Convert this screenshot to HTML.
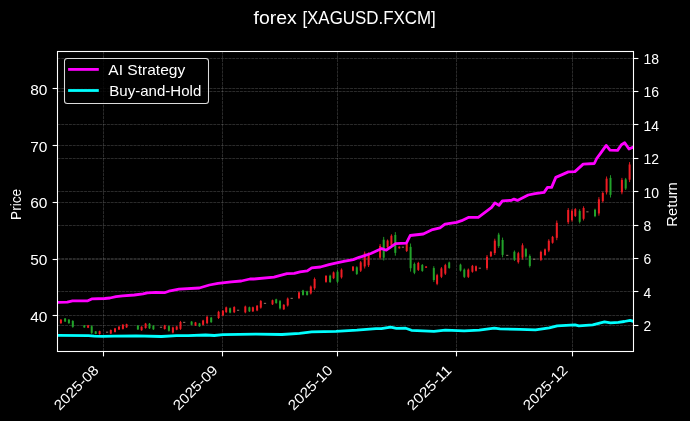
<!DOCTYPE html><html><head><meta charset="utf-8"><style>
html,body{margin:0;padding:0;background:#000;}
body{width:690px;height:421px;overflow:hidden;}
svg{display:block;will-change:transform;}
text{font-family:"Liberation Sans", sans-serif;fill:#fff;}
</style></head><body>
<svg width="690" height="421" viewBox="0 0 690 421">
<rect x="0" y="0" width="690" height="421" fill="#000"/>
<line x1="103.5" y1="51.5" x2="103.5" y2="351.5" stroke="#fff" stroke-opacity="0.24" stroke-width="0.7" stroke-dasharray="3.0 0.8"/>
<line x1="222.5" y1="51.5" x2="222.5" y2="351.5" stroke="#fff" stroke-opacity="0.24" stroke-width="0.7" stroke-dasharray="3.0 0.8"/>
<line x1="337.5" y1="51.5" x2="337.5" y2="351.5" stroke="#fff" stroke-opacity="0.24" stroke-width="0.7" stroke-dasharray="3.0 0.8"/>
<line x1="456.5" y1="51.5" x2="456.5" y2="351.5" stroke="#fff" stroke-opacity="0.24" stroke-width="0.7" stroke-dasharray="3.0 0.8"/>
<line x1="572.5" y1="51.5" x2="572.5" y2="351.5" stroke="#fff" stroke-opacity="0.24" stroke-width="0.7" stroke-dasharray="3.0 0.8"/>
<line x1="57.5" y1="315.50" x2="633.5" y2="315.50" stroke="#fff" stroke-opacity="0.24" stroke-width="0.7" stroke-dasharray="3.0 0.8"/>
<line x1="57.5" y1="259.50" x2="633.5" y2="259.50" stroke="#fff" stroke-opacity="0.24" stroke-width="0.7" stroke-dasharray="3.0 0.8"/>
<line x1="57.5" y1="202.50" x2="633.5" y2="202.50" stroke="#fff" stroke-opacity="0.24" stroke-width="0.7" stroke-dasharray="3.0 0.8"/>
<line x1="57.5" y1="145.50" x2="633.5" y2="145.50" stroke="#fff" stroke-opacity="0.24" stroke-width="0.7" stroke-dasharray="3.0 0.8"/>
<line x1="57.5" y1="88.50" x2="633.5" y2="88.50" stroke="#fff" stroke-opacity="0.24" stroke-width="0.7" stroke-dasharray="3.0 0.8"/>
<line x1="57.5" y1="58.50" x2="633.5" y2="58.50" stroke="#fff" stroke-opacity="0.24" stroke-width="0.7" stroke-dasharray="3.0 0.8"/>
<line x1="57.5" y1="91.50" x2="633.5" y2="91.50" stroke="#fff" stroke-opacity="0.24" stroke-width="0.7" stroke-dasharray="3.0 0.8"/>
<line x1="57.5" y1="124.50" x2="633.5" y2="124.50" stroke="#fff" stroke-opacity="0.24" stroke-width="0.7" stroke-dasharray="3.0 0.8"/>
<line x1="57.5" y1="158.50" x2="633.5" y2="158.50" stroke="#fff" stroke-opacity="0.24" stroke-width="0.7" stroke-dasharray="3.0 0.8"/>
<line x1="57.5" y1="191.50" x2="633.5" y2="191.50" stroke="#fff" stroke-opacity="0.24" stroke-width="0.7" stroke-dasharray="3.0 0.8"/>
<line x1="57.5" y1="225.50" x2="633.5" y2="225.50" stroke="#fff" stroke-opacity="0.24" stroke-width="0.7" stroke-dasharray="3.0 0.8"/>
<line x1="57.5" y1="258.50" x2="633.5" y2="258.50" stroke="#fff" stroke-opacity="0.24" stroke-width="0.7" stroke-dasharray="3.0 0.8"/>
<line x1="57.5" y1="291.50" x2="633.5" y2="291.50" stroke="#fff" stroke-opacity="0.24" stroke-width="0.7" stroke-dasharray="3.0 0.8"/>
<line x1="57.5" y1="325.50" x2="633.5" y2="325.50" stroke="#fff" stroke-opacity="0.24" stroke-width="0.7" stroke-dasharray="3.0 0.8"/>
<g>
<rect x="60.45" y="319.10" width="0.9" height="4.70" fill="#ee1c24"/>
<rect x="59.90" y="319.66" width="2.0" height="3.57" fill="#ee1c24"/>
<rect x="64.65" y="318.00" width="0.9" height="4.00" fill="#22a22a"/>
<rect x="64.10" y="318.48" width="2.0" height="3.04" fill="#22a22a"/>
<rect x="68.45" y="319.10" width="0.9" height="4.70" fill="#22a22a"/>
<rect x="67.90" y="319.66" width="2.0" height="3.57" fill="#22a22a"/>
<rect x="72.35" y="320.10" width="0.9" height="7.70" fill="#22a22a"/>
<rect x="71.80" y="321.02" width="2.0" height="5.85" fill="#22a22a"/>
<rect x="83.85" y="325.00" width="0.9" height="2.80" fill="#22a22a"/>
<rect x="83.30" y="325.34" width="2.0" height="2.13" fill="#22a22a"/>
<rect x="87.65" y="324.90" width="0.9" height="3.20" fill="#ee1c24"/>
<rect x="87.10" y="325.28" width="2.0" height="2.43" fill="#ee1c24"/>
<rect x="91.25" y="325.20" width="0.9" height="8.70" fill="#22a22a"/>
<rect x="90.70" y="326.24" width="2.0" height="6.61" fill="#22a22a"/>
<rect x="95.25" y="331.00" width="0.9" height="3.30" fill="#22a22a"/>
<rect x="94.70" y="331.40" width="2.0" height="2.51" fill="#22a22a"/>
<rect x="99.15" y="330.70" width="0.9" height="3.90" fill="#ee1c24"/>
<rect x="98.60" y="331.17" width="2.0" height="2.96" fill="#ee1c24"/>
<rect x="106.00" y="331.60" width="2.2" height="1.2" fill="#7a6458"/>
<rect x="110.35" y="329.50" width="0.9" height="4.60" fill="#ee1c24"/>
<rect x="109.80" y="330.05" width="2.0" height="3.50" fill="#ee1c24"/>
<rect x="114.55" y="327.90" width="0.9" height="4.60" fill="#ee1c24"/>
<rect x="114.00" y="328.45" width="2.0" height="3.50" fill="#ee1c24"/>
<rect x="118.55" y="326.20" width="0.9" height="3.80" fill="#ee1c24"/>
<rect x="118.00" y="326.66" width="2.0" height="2.89" fill="#ee1c24"/>
<rect x="122.45" y="324.10" width="0.9" height="5.40" fill="#ee1c24"/>
<rect x="121.90" y="324.75" width="2.0" height="4.10" fill="#ee1c24"/>
<rect x="126.15" y="323.70" width="0.9" height="4.20" fill="#ee1c24"/>
<rect x="125.60" y="324.20" width="2.0" height="3.19" fill="#ee1c24"/>
<rect x="137.45" y="325.00" width="0.9" height="5.00" fill="#22a22a"/>
<rect x="136.90" y="325.60" width="2.0" height="3.80" fill="#22a22a"/>
<rect x="141.15" y="326.20" width="0.9" height="4.60" fill="#ee1c24"/>
<rect x="140.60" y="326.75" width="2.0" height="3.50" fill="#ee1c24"/>
<rect x="145.15" y="322.90" width="0.9" height="5.80" fill="#ee1c24"/>
<rect x="144.60" y="323.60" width="2.0" height="4.41" fill="#ee1c24"/>
<rect x="149.05" y="323.00" width="0.9" height="6.00" fill="#22a22a"/>
<rect x="148.50" y="323.72" width="2.0" height="4.56" fill="#22a22a"/>
<rect x="152.95" y="325.10" width="0.9" height="4.80" fill="#22a22a"/>
<rect x="152.40" y="325.68" width="2.0" height="3.65" fill="#22a22a"/>
<rect x="159.90" y="326.70" width="2.2" height="1.2" fill="#7a6458"/>
<rect x="164.25" y="324.80" width="0.9" height="4.80" fill="#ee1c24"/>
<rect x="163.70" y="325.38" width="2.0" height="3.65" fill="#ee1c24"/>
<rect x="168.45" y="325.40" width="0.9" height="6.20" fill="#22a22a"/>
<rect x="167.90" y="326.14" width="2.0" height="4.71" fill="#22a22a"/>
<rect x="172.45" y="326.60" width="0.9" height="6.80" fill="#ee1c24"/>
<rect x="171.90" y="327.42" width="2.0" height="5.17" fill="#ee1c24"/>
<rect x="176.25" y="326.00" width="0.9" height="4.20" fill="#ee1c24"/>
<rect x="175.70" y="326.50" width="2.0" height="3.19" fill="#ee1c24"/>
<rect x="180.05" y="320.90" width="0.9" height="9.00" fill="#ee1c24"/>
<rect x="179.50" y="321.98" width="2.0" height="6.84" fill="#ee1c24"/>
<rect x="183.10" y="321.80" width="2.2" height="1.2" fill="#7a6458"/>
<rect x="191.15" y="321.10" width="0.9" height="4.20" fill="#22a22a"/>
<rect x="190.60" y="321.60" width="2.0" height="3.19" fill="#22a22a"/>
<rect x="195.05" y="321.90" width="0.9" height="4.10" fill="#ee1c24"/>
<rect x="194.50" y="322.39" width="2.0" height="3.12" fill="#ee1c24"/>
<rect x="199.05" y="322.90" width="0.9" height="3.90" fill="#22a22a"/>
<rect x="198.50" y="323.37" width="2.0" height="2.96" fill="#22a22a"/>
<rect x="202.65" y="319.80" width="0.9" height="5.70" fill="#ee1c24"/>
<rect x="202.10" y="320.48" width="2.0" height="4.33" fill="#ee1c24"/>
<rect x="206.65" y="315.80" width="0.9" height="8.40" fill="#ee1c24"/>
<rect x="206.10" y="316.81" width="2.0" height="6.38" fill="#ee1c24"/>
<rect x="210.75" y="316.90" width="0.9" height="6.00" fill="#22a22a"/>
<rect x="210.20" y="317.62" width="2.0" height="4.56" fill="#22a22a"/>
<rect x="218.15" y="310.80" width="0.9" height="8.20" fill="#ee1c24"/>
<rect x="217.60" y="311.78" width="2.0" height="6.23" fill="#ee1c24"/>
<rect x="222.45" y="310.00" width="0.9" height="6.20" fill="#ee1c24"/>
<rect x="221.90" y="310.74" width="2.0" height="4.71" fill="#ee1c24"/>
<rect x="225.75" y="306.60" width="0.9" height="6.30" fill="#ee1c24"/>
<rect x="225.20" y="307.36" width="2.0" height="4.79" fill="#ee1c24"/>
<rect x="229.65" y="307.50" width="0.9" height="5.80" fill="#22a22a"/>
<rect x="229.10" y="308.20" width="2.0" height="4.41" fill="#22a22a"/>
<rect x="233.75" y="306.20" width="0.9" height="6.90" fill="#ee1c24"/>
<rect x="233.20" y="307.03" width="2.0" height="5.24" fill="#ee1c24"/>
<rect x="237.00" y="309.70" width="2.2" height="1.2" fill="#7a6458"/>
<rect x="244.85" y="305.60" width="0.9" height="7.70" fill="#ee1c24"/>
<rect x="244.30" y="306.52" width="2.0" height="5.85" fill="#ee1c24"/>
<rect x="248.95" y="306.60" width="0.9" height="5.40" fill="#22a22a"/>
<rect x="248.40" y="307.25" width="2.0" height="4.10" fill="#22a22a"/>
<rect x="252.45" y="306.60" width="0.9" height="5.40" fill="#ee1c24"/>
<rect x="251.90" y="307.25" width="2.0" height="4.10" fill="#ee1c24"/>
<rect x="256.65" y="305.00" width="0.9" height="6.20" fill="#ee1c24"/>
<rect x="256.10" y="305.74" width="2.0" height="4.71" fill="#ee1c24"/>
<rect x="260.35" y="300.00" width="0.9" height="8.70" fill="#ee1c24"/>
<rect x="259.80" y="301.04" width="2.0" height="6.61" fill="#ee1c24"/>
<rect x="263.90" y="302.80" width="2.2" height="1.2" fill="#7a6458"/>
<rect x="272.05" y="299.60" width="0.9" height="5.40" fill="#ee1c24"/>
<rect x="271.50" y="300.25" width="2.0" height="4.10" fill="#ee1c24"/>
<rect x="275.75" y="298.70" width="0.9" height="5.00" fill="#22a22a"/>
<rect x="275.20" y="299.30" width="2.0" height="3.80" fill="#22a22a"/>
<rect x="279.55" y="300.00" width="0.9" height="9.50" fill="#22a22a"/>
<rect x="279.00" y="301.14" width="2.0" height="7.22" fill="#22a22a"/>
<rect x="283.35" y="304.10" width="0.9" height="5.90" fill="#ee1c24"/>
<rect x="282.80" y="304.81" width="2.0" height="4.48" fill="#ee1c24"/>
<rect x="287.25" y="297.50" width="0.9" height="9.10" fill="#ee1c24"/>
<rect x="286.70" y="298.59" width="2.0" height="6.92" fill="#ee1c24"/>
<rect x="290.60" y="297.80" width="2.2" height="1.2" fill="#7a6458"/>
<rect x="298.55" y="291.50" width="0.9" height="7.60" fill="#ee1c24"/>
<rect x="298.00" y="292.41" width="2.0" height="5.78" fill="#ee1c24"/>
<rect x="302.55" y="289.80" width="0.9" height="5.80" fill="#22a22a"/>
<rect x="302.00" y="290.50" width="2.0" height="4.41" fill="#22a22a"/>
<rect x="306.65" y="290.80" width="0.9" height="4.80" fill="#22a22a"/>
<rect x="306.10" y="291.38" width="2.0" height="3.65" fill="#22a22a"/>
<rect x="310.35" y="285.50" width="0.9" height="9.00" fill="#ee1c24"/>
<rect x="309.80" y="286.58" width="2.0" height="6.84" fill="#ee1c24"/>
<rect x="314.15" y="277.50" width="0.9" height="12.30" fill="#ee1c24"/>
<rect x="313.60" y="278.98" width="2.0" height="9.35" fill="#ee1c24"/>
<rect x="325.55" y="275.00" width="0.9" height="7.80" fill="#ee1c24"/>
<rect x="325.00" y="275.94" width="2.0" height="5.93" fill="#ee1c24"/>
<rect x="329.65" y="274.70" width="0.9" height="8.30" fill="#22a22a"/>
<rect x="329.10" y="275.70" width="2.0" height="6.31" fill="#22a22a"/>
<rect x="333.15" y="271.50" width="0.9" height="7.60" fill="#ee1c24"/>
<rect x="332.60" y="272.41" width="2.0" height="5.78" fill="#ee1c24"/>
<rect x="337.05" y="270.10" width="0.9" height="13.20" fill="#22a22a"/>
<rect x="336.50" y="271.68" width="2.0" height="10.03" fill="#22a22a"/>
<rect x="341.05" y="268.40" width="0.9" height="10.20" fill="#ee1c24"/>
<rect x="340.50" y="269.62" width="2.0" height="7.75" fill="#ee1c24"/>
<rect x="352.55" y="266.00" width="0.9" height="5.30" fill="#ee1c24"/>
<rect x="352.00" y="266.64" width="2.0" height="4.03" fill="#ee1c24"/>
<rect x="356.35" y="266.20" width="0.9" height="8.80" fill="#22a22a"/>
<rect x="355.80" y="267.26" width="2.0" height="6.69" fill="#22a22a"/>
<rect x="360.25" y="261.00" width="0.9" height="11.00" fill="#ee1c24"/>
<rect x="359.70" y="262.32" width="2.0" height="8.36" fill="#ee1c24"/>
<rect x="364.25" y="251.50" width="0.9" height="17.00" fill="#ee1c24"/>
<rect x="363.70" y="253.54" width="2.0" height="12.92" fill="#ee1c24"/>
<rect x="368.15" y="252.40" width="0.9" height="14.60" fill="#ee1c24"/>
<rect x="367.60" y="254.15" width="2.0" height="11.10" fill="#ee1c24"/>
<rect x="379.65" y="244.00" width="0.9" height="15.50" fill="#ee1c24"/>
<rect x="379.10" y="245.86" width="2.0" height="11.78" fill="#ee1c24"/>
<rect x="383.25" y="236.90" width="0.9" height="23.60" fill="#22a22a"/>
<rect x="382.70" y="239.73" width="2.0" height="17.94" fill="#22a22a"/>
<rect x="387.15" y="239.50" width="0.9" height="8.80" fill="#ee1c24"/>
<rect x="386.60" y="240.56" width="2.0" height="6.69" fill="#ee1c24"/>
<rect x="390.95" y="234.30" width="0.9" height="12.10" fill="#ee1c24"/>
<rect x="390.40" y="235.75" width="2.0" height="9.20" fill="#ee1c24"/>
<rect x="394.85" y="232.10" width="0.9" height="23.60" fill="#22a22a"/>
<rect x="394.30" y="234.93" width="2.0" height="17.94" fill="#22a22a"/>
<rect x="398.85" y="246.40" width="0.9" height="2.20" fill="#ee1c24"/>
<rect x="398.30" y="246.66" width="2.0" height="1.67" fill="#ee1c24"/>
<rect x="401.80" y="246.60" width="2.2" height="1.2" fill="#7a6458"/>
<rect x="406.25" y="243.00" width="0.9" height="9.00" fill="#ee1c24"/>
<rect x="405.70" y="244.08" width="2.0" height="6.84" fill="#ee1c24"/>
<rect x="410.15" y="243.50" width="0.9" height="28.10" fill="#22a22a"/>
<rect x="409.60" y="246.87" width="2.0" height="21.36" fill="#22a22a"/>
<rect x="413.95" y="262.50" width="0.9" height="11.70" fill="#22a22a"/>
<rect x="413.40" y="263.90" width="2.0" height="8.89" fill="#22a22a"/>
<rect x="417.85" y="261.80" width="0.9" height="9.20" fill="#ee1c24"/>
<rect x="417.30" y="262.90" width="2.0" height="6.99" fill="#ee1c24"/>
<rect x="421.85" y="264.00" width="0.9" height="7.80" fill="#22a22a"/>
<rect x="421.30" y="264.94" width="2.0" height="5.93" fill="#22a22a"/>
<rect x="425.65" y="266.20" width="0.9" height="1.80" fill="#ee1c24"/>
<rect x="425.10" y="266.42" width="2.0" height="1.37" fill="#ee1c24"/>
<rect x="433.35" y="266.20" width="0.9" height="15.70" fill="#22a22a"/>
<rect x="432.80" y="268.08" width="2.0" height="11.93" fill="#22a22a"/>
<rect x="436.65" y="273.80" width="0.9" height="11.40" fill="#ee1c24"/>
<rect x="436.10" y="275.17" width="2.0" height="8.66" fill="#ee1c24"/>
<rect x="440.95" y="267.10" width="0.9" height="11.00" fill="#ee1c24"/>
<rect x="440.40" y="268.42" width="2.0" height="8.36" fill="#ee1c24"/>
<rect x="444.85" y="263.80" width="0.9" height="11.20" fill="#ee1c24"/>
<rect x="444.30" y="265.14" width="2.0" height="8.51" fill="#ee1c24"/>
<rect x="448.75" y="261.60" width="0.9" height="7.20" fill="#22a22a"/>
<rect x="448.20" y="262.46" width="2.0" height="5.47" fill="#22a22a"/>
<rect x="460.05" y="263.70" width="0.9" height="7.80" fill="#22a22a"/>
<rect x="459.50" y="264.64" width="2.0" height="5.93" fill="#22a22a"/>
<rect x="463.85" y="268.50" width="0.9" height="9.50" fill="#22a22a"/>
<rect x="463.30" y="269.64" width="2.0" height="7.22" fill="#22a22a"/>
<rect x="467.85" y="268.50" width="0.9" height="9.50" fill="#ee1c24"/>
<rect x="467.30" y="269.64" width="2.0" height="7.22" fill="#ee1c24"/>
<rect x="471.95" y="264.90" width="0.9" height="7.80" fill="#ee1c24"/>
<rect x="471.40" y="265.84" width="2.0" height="5.93" fill="#ee1c24"/>
<rect x="475.55" y="265.50" width="0.9" height="6.00" fill="#ee1c24"/>
<rect x="475.00" y="266.22" width="2.0" height="4.56" fill="#ee1c24"/>
<rect x="478.70" y="267.60" width="2.2" height="1.2" fill="#7a6458"/>
<rect x="486.55" y="255.00" width="0.9" height="15.10" fill="#ee1c24"/>
<rect x="486.00" y="256.81" width="2.0" height="11.48" fill="#ee1c24"/>
<rect x="490.45" y="251.10" width="0.9" height="5.90" fill="#ee1c24"/>
<rect x="489.90" y="251.81" width="2.0" height="4.48" fill="#ee1c24"/>
<rect x="494.35" y="238.70" width="0.9" height="16.30" fill="#ee1c24"/>
<rect x="493.80" y="240.66" width="2.0" height="12.39" fill="#ee1c24"/>
<rect x="498.25" y="232.80" width="0.9" height="15.10" fill="#22a22a"/>
<rect x="497.70" y="234.61" width="2.0" height="11.48" fill="#22a22a"/>
<rect x="502.15" y="237.60" width="0.9" height="19.70" fill="#22a22a"/>
<rect x="501.60" y="239.96" width="2.0" height="14.97" fill="#22a22a"/>
<rect x="506.10" y="254.80" width="2.2" height="1.2" fill="#7a6458"/>
<rect x="513.95" y="250.50" width="0.9" height="10.50" fill="#22a22a"/>
<rect x="513.40" y="251.76" width="2.0" height="7.98" fill="#22a22a"/>
<rect x="517.85" y="251.80" width="0.9" height="11.80" fill="#ee1c24"/>
<rect x="517.30" y="253.22" width="2.0" height="8.97" fill="#ee1c24"/>
<rect x="522.05" y="243.30" width="0.9" height="16.30" fill="#ee1c24"/>
<rect x="521.50" y="245.26" width="2.0" height="12.39" fill="#ee1c24"/>
<rect x="525.45" y="247.90" width="0.9" height="9.80" fill="#22a22a"/>
<rect x="524.90" y="249.08" width="2.0" height="7.45" fill="#22a22a"/>
<rect x="529.35" y="254.40" width="0.9" height="13.10" fill="#22a22a"/>
<rect x="528.80" y="255.97" width="2.0" height="9.96" fill="#22a22a"/>
<rect x="533.10" y="258.70" width="2.2" height="1.2" fill="#7a6458"/>
<rect x="540.45" y="250.60" width="0.9" height="10.50" fill="#ee1c24"/>
<rect x="539.90" y="251.86" width="2.0" height="7.98" fill="#ee1c24"/>
<rect x="544.55" y="248.50" width="0.9" height="7.40" fill="#ee1c24"/>
<rect x="544.00" y="249.39" width="2.0" height="5.62" fill="#ee1c24"/>
<rect x="548.35" y="239.20" width="0.9" height="12.90" fill="#ee1c24"/>
<rect x="547.80" y="240.75" width="2.0" height="9.80" fill="#ee1c24"/>
<rect x="552.15" y="235.90" width="0.9" height="7.80" fill="#ee1c24"/>
<rect x="551.60" y="236.84" width="2.0" height="5.93" fill="#ee1c24"/>
<rect x="556.35" y="220.50" width="0.9" height="19.70" fill="#ee1c24"/>
<rect x="555.80" y="222.86" width="2.0" height="14.97" fill="#ee1c24"/>
<rect x="567.75" y="208.10" width="0.9" height="16.00" fill="#ee1c24"/>
<rect x="567.20" y="210.02" width="2.0" height="12.16" fill="#ee1c24"/>
<rect x="571.55" y="209.20" width="0.9" height="12.50" fill="#ee1c24"/>
<rect x="571.00" y="210.70" width="2.0" height="9.50" fill="#ee1c24"/>
<rect x="574.85" y="208.10" width="0.9" height="8.90" fill="#ee1c24"/>
<rect x="574.30" y="209.17" width="2.0" height="6.76" fill="#ee1c24"/>
<rect x="579.25" y="209.20" width="0.9" height="14.30" fill="#22a22a"/>
<rect x="578.70" y="210.92" width="2.0" height="10.87" fill="#22a22a"/>
<rect x="583.15" y="206.30" width="0.9" height="14.20" fill="#ee1c24"/>
<rect x="582.60" y="208.00" width="2.0" height="10.79" fill="#ee1c24"/>
<rect x="586.30" y="211.20" width="2.2" height="1.2" fill="#7a6458"/>
<rect x="594.55" y="208.70" width="0.9" height="8.50" fill="#22a22a"/>
<rect x="594.00" y="209.72" width="2.0" height="6.46" fill="#22a22a"/>
<rect x="598.45" y="197.10" width="0.9" height="18.60" fill="#ee1c24"/>
<rect x="597.90" y="199.33" width="2.0" height="14.14" fill="#ee1c24"/>
<rect x="602.35" y="191.70" width="0.9" height="10.80" fill="#ee1c24"/>
<rect x="601.80" y="193.00" width="2.0" height="8.21" fill="#ee1c24"/>
<rect x="606.15" y="176.50" width="0.9" height="18.00" fill="#ee1c24"/>
<rect x="605.60" y="178.66" width="2.0" height="13.68" fill="#ee1c24"/>
<rect x="610.05" y="175.20" width="0.9" height="22.30" fill="#22a22a"/>
<rect x="609.50" y="177.88" width="2.0" height="16.95" fill="#22a22a"/>
<rect x="621.45" y="177.90" width="0.9" height="16.40" fill="#ee1c24"/>
<rect x="620.90" y="179.87" width="2.0" height="12.46" fill="#ee1c24"/>
<rect x="625.25" y="177.90" width="0.9" height="12.10" fill="#22a22a"/>
<rect x="624.70" y="179.35" width="2.0" height="9.20" fill="#22a22a"/>
<rect x="629.15" y="162.10" width="0.9" height="20.00" fill="#ee1c24"/>
<rect x="628.60" y="164.50" width="2.0" height="15.20" fill="#ee1c24"/>
</g>
<defs><clipPath id="ax"><rect x="57.5" y="51.5" width="576.0" height="300.0"/></clipPath></defs>
<g clip-path="url(#ax)">
<polyline points="57.5,302.3 67.3,302.2 72.5,300.9 87.3,300.9 91.7,298.9 104.7,298.5 109.9,298.0 116.0,296.7 122.7,295.8 134.3,295.0 143.0,293.9 147.3,292.8 156.0,292.3 164.5,292.7 168.8,291.2 179.0,289.2 199.3,288.0 209.4,285.0 218.0,283.3 231.2,281.8 241.3,281.0 250.0,279.0 253.7,279.0 274.0,277.1 287.0,273.7 294.3,273.4 300.0,271.8 307.3,270.9 311.7,267.9 320.4,267.0 329.0,264.6 337.8,262.7 345.0,261.2 353.3,259.6 359.1,257.3 361.6,256.6 370.9,253.5 381.7,248.6 386.3,250.2 395.6,243.7 406.4,243.2 410.2,235.5 423.3,234.0 432.6,229.6 440.0,227.8 445.0,224.1 456.6,222.4 461.6,220.7 468.3,217.4 478.3,217.4 485.0,212.4 491.6,207.4 494.9,202.9 499.0,205.4 502.4,200.8 511.5,200.3 514.0,199.1 517.4,200.4 528.2,195.0 535.0,193.6 544.1,192.4 547.5,187.4 551.6,187.4 555.8,177.4 563.3,174.1 568.3,171.9 574.9,171.6 583.2,164.1 594.3,163.5 596.7,158.5 600.5,153.3 606.2,145.4 610.0,150.2 617.6,150.4 621.4,144.7 624.7,142.8 629.0,149.0 633.4,147.0" fill="none" stroke="#f0f" stroke-width="2.8" stroke-linejoin="round" stroke-linecap="round"/>
<polyline points="57.5,335.4 88.5,335.7 94.3,336.2 102.4,336.3 114.0,336.2 136.0,335.9 161.5,336.5 176.5,335.6 188.2,335.6 205.6,335.0 214.3,335.5 223.0,334.7 256.0,334.1 282.0,334.5 299.5,333.3 311.7,331.9 336.0,331.4 356.9,330.2 376.0,328.6 381.3,328.6 390.7,327.2 396.4,328.4 405.8,328.2 411.4,330.3 434.0,331.4 445.3,330.1 464.2,330.8 479.2,330.1 494.3,328.2 500.0,328.8 519.7,329.4 535.5,329.8 549.3,327.8 557.2,325.8 575.0,324.8 578.9,325.8 592.7,324.8 604.5,321.9 610.5,322.8 618.3,322.3 624.3,321.5 630.2,320.3 633.4,321.3" fill="none" stroke="#0ff" stroke-width="2.8" stroke-linejoin="round" stroke-linecap="round"/>
</g>
<rect x="57.5" y="51.5" width="576.0" height="300.0" fill="none" stroke="#fff" stroke-width="1.1"/>
<line x1="52.6" y1="315.50" x2="57.5" y2="315.50" stroke="#fff" stroke-width="1.1"/>
<text x="47.4" y="321.90" font-size="14.2" text-anchor="end" textLength="17.2" lengthAdjust="spacingAndGlyphs">40</text>
<line x1="52.6" y1="259.50" x2="57.5" y2="259.50" stroke="#fff" stroke-width="1.1"/>
<text x="47.4" y="265.15" font-size="14.2" text-anchor="end" textLength="17.2" lengthAdjust="spacingAndGlyphs">50</text>
<line x1="52.6" y1="202.50" x2="57.5" y2="202.50" stroke="#fff" stroke-width="1.1"/>
<text x="47.4" y="208.40" font-size="14.2" text-anchor="end" textLength="17.2" lengthAdjust="spacingAndGlyphs">60</text>
<line x1="52.6" y1="145.50" x2="57.5" y2="145.50" stroke="#fff" stroke-width="1.1"/>
<text x="47.4" y="151.65" font-size="14.2" text-anchor="end" textLength="17.2" lengthAdjust="spacingAndGlyphs">70</text>
<line x1="52.6" y1="88.50" x2="57.5" y2="88.50" stroke="#fff" stroke-width="1.1"/>
<text x="47.4" y="94.90" font-size="14.2" text-anchor="end" textLength="17.2" lengthAdjust="spacingAndGlyphs">80</text>
<line x1="633.5" y1="58.50" x2="638.4" y2="58.50" stroke="#fff" stroke-width="1.1"/>
<text x="643.6" y="64.10" font-size="14.2" textLength="15.5" lengthAdjust="spacingAndGlyphs">18</text>
<line x1="633.5" y1="91.50" x2="638.4" y2="91.50" stroke="#fff" stroke-width="1.1"/>
<text x="643.6" y="97.48" font-size="14.2" textLength="15.5" lengthAdjust="spacingAndGlyphs">16</text>
<line x1="633.5" y1="124.50" x2="638.4" y2="124.50" stroke="#fff" stroke-width="1.1"/>
<text x="643.6" y="130.85" font-size="14.2" textLength="15.5" lengthAdjust="spacingAndGlyphs">14</text>
<line x1="633.5" y1="158.50" x2="638.4" y2="158.50" stroke="#fff" stroke-width="1.1"/>
<text x="643.6" y="164.22" font-size="14.2" textLength="15.5" lengthAdjust="spacingAndGlyphs">12</text>
<line x1="633.5" y1="191.50" x2="638.4" y2="191.50" stroke="#fff" stroke-width="1.1"/>
<text x="643.6" y="197.60" font-size="14.2" textLength="15.5" lengthAdjust="spacingAndGlyphs">10</text>
<line x1="633.5" y1="225.50" x2="638.4" y2="225.50" stroke="#fff" stroke-width="1.1"/>
<text x="643.6" y="230.97" font-size="14.2" textLength="7.7" lengthAdjust="spacingAndGlyphs">8</text>
<line x1="633.5" y1="258.50" x2="638.4" y2="258.50" stroke="#fff" stroke-width="1.1"/>
<text x="643.6" y="264.35" font-size="14.2" textLength="7.7" lengthAdjust="spacingAndGlyphs">6</text>
<line x1="633.5" y1="291.50" x2="638.4" y2="291.50" stroke="#fff" stroke-width="1.1"/>
<text x="643.6" y="297.72" font-size="14.2" textLength="7.7" lengthAdjust="spacingAndGlyphs">4</text>
<line x1="633.5" y1="325.50" x2="638.4" y2="325.50" stroke="#fff" stroke-width="1.1"/>
<text x="643.6" y="331.10" font-size="14.2" textLength="7.7" lengthAdjust="spacingAndGlyphs">2</text>
<line x1="103.5" y1="351.5" x2="103.5" y2="356.4" stroke="#fff" stroke-width="1.1"/>
<text transform="translate(99.50,371.10) rotate(-45)" font-size="14.2" text-anchor="end" textLength="56.3" lengthAdjust="spacingAndGlyphs">2025-08</text>
<line x1="222.5" y1="351.5" x2="222.5" y2="356.4" stroke="#fff" stroke-width="1.1"/>
<text transform="translate(218.50,371.10) rotate(-45)" font-size="14.2" text-anchor="end" textLength="56.3" lengthAdjust="spacingAndGlyphs">2025-09</text>
<line x1="337.5" y1="351.5" x2="337.5" y2="356.4" stroke="#fff" stroke-width="1.1"/>
<text transform="translate(333.50,371.10) rotate(-45)" font-size="14.2" text-anchor="end" textLength="56.3" lengthAdjust="spacingAndGlyphs">2025-10</text>
<line x1="456.5" y1="351.5" x2="456.5" y2="356.4" stroke="#fff" stroke-width="1.1"/>
<text transform="translate(452.50,371.10) rotate(-45)" font-size="14.2" text-anchor="end" textLength="56.3" lengthAdjust="spacingAndGlyphs">2025-11</text>
<line x1="572.5" y1="351.5" x2="572.5" y2="356.4" stroke="#fff" stroke-width="1.1"/>
<text transform="translate(568.50,371.10) rotate(-45)" font-size="14.2" text-anchor="end" textLength="56.3" lengthAdjust="spacingAndGlyphs">2025-12</text>
<text transform="translate(20.6,204.4) rotate(-90)" font-size="14.2" text-anchor="middle" textLength="31" lengthAdjust="spacingAndGlyphs">Price</text>
<text transform="translate(677,204.4) rotate(-90)" font-size="14.2" text-anchor="middle" textLength="44.5" lengthAdjust="spacingAndGlyphs">Return</text>
<text x="253.6" y="23.9" font-size="18" textLength="43.2" lengthAdjust="spacingAndGlyphs">forex</text>
<text x="302.4" y="23.9" font-size="18" textLength="133.4" lengthAdjust="spacingAndGlyphs">[XAGUSD.FXCM]</text>
<rect x="64.5" y="58.5" width="144" height="45" rx="2.8" ry="2.8" fill="#000" fill-opacity="0.8" stroke="#dcdcdc" stroke-width="1.05"/>
<line x1="68.1" y1="69.4" x2="98.8" y2="69.4" stroke="#f0f" stroke-width="2.8"/>
<line x1="68.1" y1="90.5" x2="98.8" y2="90.5" stroke="#0ff" stroke-width="2.8"/>
<text x="108.3" y="75.4" font-size="14.2" textLength="77" lengthAdjust="spacingAndGlyphs">AI Strategy</text>
<text x="109.3" y="96.2" font-size="14.2" textLength="92" lengthAdjust="spacingAndGlyphs">Buy-and-Hold</text>
</svg></body></html>
